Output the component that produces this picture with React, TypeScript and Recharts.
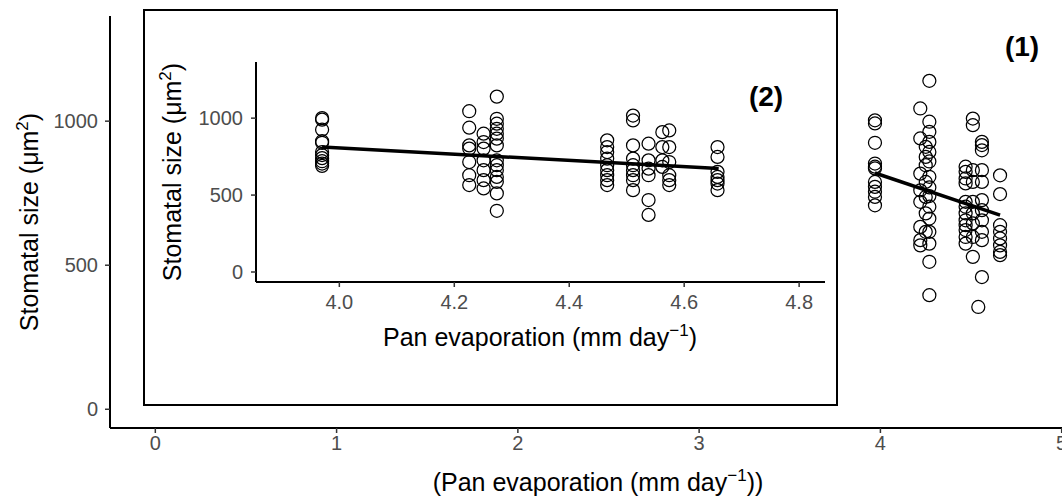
import React from "react";
import { ScatterChart, Scatter, XAxis, YAxis, ReferenceLine, Label } from "recharts";

// outer panel (1): pan evaporation groups and stomatal size values per group
const outerX = [3.97, 4.22, 4.25, 4.27, 4.47, 4.51, 4.54, 4.56, 4.66];
const outerY = [
  [1003, 992, 925, 853, 842, 836, 789, 772, 755, 737, 708],
  [1044, 940, 818, 760, 720, 633, 587, 569],
  [911, 876, 847, 789, 737, 680, 616],
  [1140, 998, 963, 928, 893, 860, 807, 770, 740, 703, 662, 616, 575, 512, 396],
  [842, 824, 801, 784, 720, 703, 680, 656, 639, 622, 598, 575],
  [1009, 986, 830, 789, 720, 680, 645, 598, 529],
  [355],
  [928, 917, 899, 830, 789, 726, 691, 656, 616, 587, 459],
  [812, 747, 639, 616, 593, 569, 546, 535],
];
const outerFit = [
  { x: 3.97, y: 820 },
  { x: 4.66, y: 674 },
];

// inset panel (2)
const insetX = [3.97, 4.226, 4.251, 4.274, 4.466, 4.511, 4.538, 4.562, 4.574, 4.658];
const insetY = [
  [1000, 990, 925, 850, 840, 780, 760, 740, 720, 705, 690],
  [1045, 938, 823, 802, 715, 629, 565],
  [899, 845, 802, 726, 662, 597, 543],
  [1140, 996, 964, 931, 899, 867, 823, 726, 694, 662, 618, 586, 511, 398],
  [856, 812, 780, 737, 694, 662, 629, 597, 565],
  [1017, 985, 823, 737, 694, 662, 629, 597, 532],
  [834, 726, 672, 629, 468, 371],
  [909, 812, 726, 683],
  [920, 812, 715, 629, 597, 565],
  [812, 748, 651, 618, 597, 575, 532],
];
const insetFit = [
  { x: 3.97, y: 812 },
  { x: 4.66, y: 673 },
];

const outerXTicks = [0, 1, 2, 3, 4, 5];
const insetXTicks = [4.0, 4.2, 4.4, 4.6, 4.8];
const yTicks = [0, 500, 1000];

const FONT = "'Liberation Sans', Arial, sans-serif";
const TICK = { fontSize: 20, fill: "#4d4d4d", fontFamily: FONT };

const toPoints = (xs: number[], ys: number[][]) =>
  xs.flatMap((x, i) => ys[i].map((y) => ({ x, y })));

const Ring = (props: any) => (
  <circle cx={props.cx} cy={props.cy} r={6.5} fill="none" stroke="#000" strokeWidth={1.25} />
);

const yTitle = (baseX: number) => (props: any) => {
  const vb = props.viewBox;
  const cy = vb.y + vb.height / 2;
  return (
    <text
      x={baseX}
      y={cy}
      transform={`rotate(-90, ${baseX}, ${cy})`}
      textAnchor="middle"
      fontSize={25}
      fontFamily={FONT}
      fill="#000"
    >
      <tspan>Stomatal size (μm</tspan>
      <tspan dy={-10} fontSize={17}>2</tspan>
      <tspan dy={10}>)</tspan>
    </text>
  );
};

const xTitle = (cx: number, baseY: number, wrap: boolean) => () => (
  <text x={cx} y={baseY} textAnchor="middle" fontSize={25} fontFamily={FONT} fill="#000">
    <tspan>{wrap ? "(" : ""}Pan evaporation (mm day</tspan>
    <tspan dy={-10} fontSize={17}>−1</tspan>
    <tspan dy={10}>){wrap ? ")" : ""}</tspan>
  </text>
);

export default function App() {
  const outerData = toPoints(outerX, outerY);
  const insetData = toPoints(insetX, insetY);

  return (
    <div
      style={{
        position: "absolute",
        left: 0,
        top: 0,
        width: 1062,
        height: 499,
        overflow: "hidden",
        background: "#fff",
        fontFamily: FONT,
      }}
    >
      <div style={{ position: "absolute", left: 0, top: 0 }}>
        <ScatterChart width={1130} height={499} margin={{ top: 16, right: 23, bottom: 0, left: 0 }}>
          <XAxis
            type="number"
            dataKey="x"
            domain={[-0.25, 5.25]}
            ticks={outerXTicks}
            interval={0}
            height={71}
            tick={TICK}
            tickSize={5}
            tickMargin={3}
            axisLine={{ stroke: "#000", strokeWidth: 2 }}
            tickLine={{ stroke: "#333", strokeWidth: 1.5 }}
          >
            <Label content={xTitle(598, 491, true)} />
          </XAxis>
          <YAxis
            type="number"
            dataKey="y"
            domain={[-65, 1365]}
            ticks={yTicks}
            interval={0}
            width={110}
            tick={TICK}
            tickSize={5}
            tickMargin={7}
            axisLine={{ stroke: "#000", strokeWidth: 2 }}
            tickLine={{ stroke: "#333", strokeWidth: 1.5 }}
          >
            <Label content={yTitle(38)} />
          </YAxis>
          <Scatter data={outerData} shape={Ring} isAnimationActive={false} />
          <ReferenceLine segment={outerFit} stroke="#000" strokeWidth={3.5} />
          <text x={1022} y={56} textAnchor="middle" fontSize={28} fontWeight="bold" fontFamily={FONT} fill="#000">
            (1)
          </text>
        </ScatterChart>
      </div>

      <div
        style={{
          position: "absolute",
          left: 143,
          top: 9,
          width: 695,
          height: 397,
          border: "2px solid #000",
          boxSizing: "border-box",
          background: "#fff",
        }}
      />

      <div style={{ position: "absolute", left: 144, top: 10 }}>
        <ScatterChart width={693} height={395} margin={{ top: 52, right: 12, bottom: 0, left: 0 }}>
          <XAxis
            type="number"
            dataKey="x"
            domain={[3.855, 4.845]}
            ticks={insetXTicks}
            interval={0}
            height={123}
            tickFormatter={(v) => Number(v).toFixed(1)}
            tick={TICK}
            tickSize={5}
            tickMargin={8}
            axisLine={{ stroke: "#000", strokeWidth: 2 }}
            tickLine={{ stroke: "#333", strokeWidth: 1.5 }}
          >
            <Label content={xTitle(396, 336, false)} />
          </XAxis>
          <YAxis
            type="number"
            dataKey="y"
            domain={[-65, 1365]}
            ticks={yTicks}
            interval={0}
            width={112}
            tick={TICK}
            tickSize={5}
            tickMargin={8}
            axisLine={{ stroke: "#000", strokeWidth: 2 }}
            tickLine={{ stroke: "#333", strokeWidth: 1.5 }}
          >
            <Label content={yTitle(37)} />
          </YAxis>
          <Scatter data={insetData} shape={Ring} isAnimationActive={false} />
          <ReferenceLine segment={insetFit} stroke="#000" strokeWidth={3.5} />
          <text x={622} y={96} textAnchor="middle" fontSize={28} fontWeight="bold" fontFamily={FONT} fill="#000">
            (2)
          </text>
        </ScatterChart>
      </div>
    </div>
  );
}
